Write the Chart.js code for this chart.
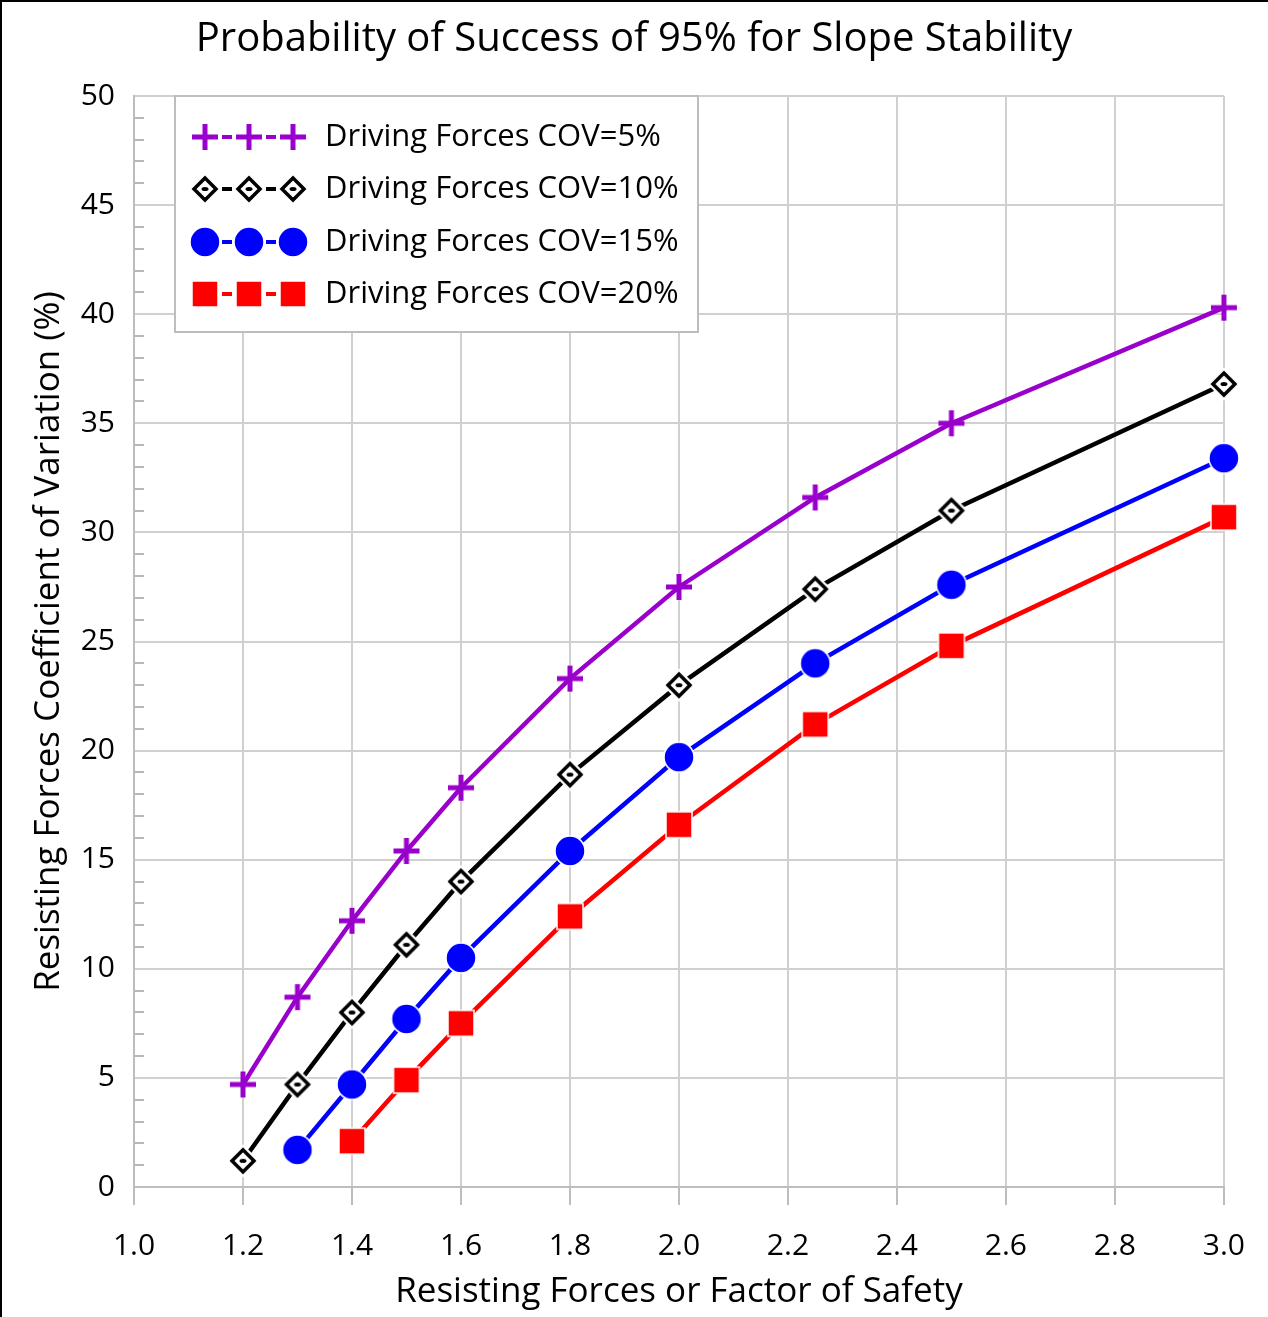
<!DOCTYPE html>
<html>
<head>
<meta charset="utf-8">
<script src="https://cdn.jsdelivr.net/npm/chart.js@4.4.1/dist/chart.umd.min.js"></script>
<style>
  html, body { margin: 0; padding: 0; background: #fff; }
  canvas { display: block; }
</style>
</head>
<body>
<canvas id="slopeChart" width="1268" height="1317"></canvas>
<script>
// factor of safety values per curve
const fsAll = [1.2, 1.3, 1.4, 1.5, 1.6, 1.8, 2.0, 2.25, 2.5, 3.0];
const fs15 = [1.3, 1.4, 1.5, 1.6, 1.8, 2.0, 2.25, 2.5, 3.0];
const fs20 = [1.4, 1.5, 1.6, 1.8, 2.0, 2.25, 2.5, 3.0];

// resisting forces COV (%)
const cov5 = [4.7, 8.7, 12.2, 15.4, 18.3, 23.3, 27.5, 31.6, 35.0, 40.3];
const cov10 = [1.2, 4.7, 8.0, 11.1, 14.0, 18.9, 23.0, 27.4, 31.0, 36.8];
const cov15 = [1.7, 4.7, 7.7, 10.5, 15.4, 19.7, 24.0, 27.6, 33.4];
const cov20 = [2.1, 4.9, 7.5, 12.4, 16.6, 21.2, 24.8, 30.7];

const seriesLabels = ['Driving Forces COV=5%', 'Driving Forces COV=10%', 'Driving Forces COV=15%', 'Driving Forces COV=20%'];
const xTicks = [1.0, 1.2, 1.4, 1.6, 1.8, 2.0, 2.2, 2.4, 2.6, 2.8, 3.0];

const FONT = '"Open Sans", Lato, sans-serif';
const PURPLE = '#9900cc';

function makeMarker(kind) {
    const c = document.createElement('canvas');
    const s = 34;
    c.width = s; c.height = s;
    const g = c.getContext('2d');
    const m = s / 2;
    if (kind === 'cross') {
        g.fillStyle = PURPLE;
        g.fillRect(m - 13, m - 2.5, 26, 5);
        g.fillRect(m - 2.5, m - 13, 5, 26);
    } else if (kind === 'diamond') {
        const r = 11;
        g.beginPath();
        g.moveTo(m, m - r); g.lineTo(m + r, m); g.lineTo(m, m + r); g.lineTo(m - r, m); g.closePath();
        g.lineWidth = 8; g.strokeStyle = '#fff'; g.stroke();
        g.fillStyle = '#fff'; g.fill();
        g.lineWidth = 3.5; g.strokeStyle = '#000'; g.stroke();
        g.beginPath();
        g.ellipse(m, m, 3.5, 2, 0, 0, Math.PI * 2);
        g.fillStyle = '#000'; g.fill();
    } else if (kind === 'circle') {
        g.beginPath();
        g.arc(m, m, 15, 0, Math.PI * 2);
        g.fillStyle = '#0000ff'; g.fill();
        g.lineWidth = 1.5; g.strokeStyle = '#fff'; g.stroke();
    } else {
        g.fillStyle = '#ff0000';
        g.fillRect(m - 13, m - 13, 26, 26);
        g.lineWidth = 1.5; g.strokeStyle = '#fff';
        g.strokeRect(m - 13, m - 13, 26, 26);
    }
    return c;
}

const markers = [makeMarker('cross'), makeMarker('diamond'), makeMarker('circle'), makeMarker('square')];
const colors = [PURPLE, '#000000', '#0000ff', '#ff0000'];

function pts(xs, ys) {
    return xs.map((x, i) => ({ x: x, y: ys[i] }));
}

const pageDeco = {
    id: 'pageDeco',
    beforeDraw(chart) {
        const ctx = chart.ctx;
        ctx.save();
        ctx.fillStyle = '#fff';
        ctx.fillRect(0, 0, chart.width, chart.height);
        ctx.fillStyle = '#000';
        ctx.fillRect(0, 0, chart.width, 2);
        ctx.fillRect(0, 0, 2, chart.height);
        ctx.restore();
    },
    afterDraw(chart) {
        const ctx = chart.ctx;
        const y = chart.scales.y;
        const area = chart.chartArea;
        ctx.save();
        // minor ticks on the y axis, pointing inwards
        ctx.strokeStyle = '#b8b8b8';
        ctx.lineWidth = 2;
        for (let v = 0; v <= 50; v++) {
            if (v % 5 === 0) continue;
            const py = Math.round(y.getPixelForValue(v));
            ctx.beginPath();
            ctx.moveTo(area.left, py);
            ctx.lineTo(area.left + 10, py);
            ctx.stroke();
        }
        // title
        ctx.fillStyle = '#000';
        ctx.font = '40px ' + FONT;
        ctx.textAlign = 'center';
        ctx.textBaseline = 'middle';
        ctx.fillText('Probability of Success of 95% for Slope Stability', 634, 40);

        // legend
        const bx = 175, by = 96, bw = 523, bh = 236;
        ctx.fillStyle = '#fff';
        ctx.fillRect(bx, by, bw, bh);
        ctx.strokeStyle = '#bdbdbd';
        ctx.lineWidth = 2;
        ctx.strokeRect(bx, by, bw, bh);
        const rows = [137, 189, 242, 294];
        const mx = [205, 249, 293];
        ctx.font = '31px ' + FONT;
        ctx.textAlign = 'left';
        for (let i = 0; i < 4; i++) {
            const ry = rows[i];
            ctx.strokeStyle = colors[i];
            ctx.lineWidth = 4;
            for (let k = 0; k < 2; k++) {
                const cx = (mx[k] + mx[k + 1]) / 2;
                ctx.beginPath();
                ctx.moveTo(cx - 5, ry);
                ctx.lineTo(cx + 5, ry);
                ctx.stroke();
            }
            const img = markers[i];
            mx.forEach(px => ctx.drawImage(img, px - img.width / 2, ry - img.height / 2));
            ctx.fillStyle = '#000';
            ctx.fillText(seriesLabels[i], 325, ry);
        }
        ctx.restore();
    }
};

const datasets = [
    [fsAll, cov5], [fsAll, cov10], [fs15, cov15], [fs20, cov20]
].map(([xs, ys], i) => ({
    label: seriesLabels[i],
    data: pts(xs, ys),
    borderColor: colors[i],
    backgroundColor: colors[i],
    borderWidth: 4.5,
    pointStyle: markers[i],
    pointRadius: 14,
    clip: false,
    tension: 0
}));

new Chart(document.getElementById('slopeChart'), {
    type: 'line',
    data: { datasets: datasets },
    plugins: [pageDeco],
    options: {
        responsive: false,
        animation: false,
        layout: { padding: { left: 28, right: 39, top: 96, bottom: 4 } },
        plugins: {
            legend: { display: false },
            title: { display: false },
            tooltip: { enabled: false }
        },
        scales: {
            x: {
                type: 'linear',
                min: 1.0,
                max: 3.0,
                afterFit(scale) { scale.height = 126; },
                afterBuildTicks(scale) { scale.ticks = xTicks.map(v => ({ value: v })); },
                ticks: {
                    font: { family: FONT, size: 30 },
                    color: '#000',
                    padding: 23,
                    maxRotation: 0,
                    callback: v => v.toFixed(1)
                },
                grid: { color: '#d0d0d0', lineWidth: 2, tickLength: 18, tickColor: '#bdbdbd' },
                border: { color: '#bdbdbd', width: 2 },
                title: {
                    display: true,
                    text: 'Resisting Forces or Factor of Safety',
                    font: { family: FONT, size: 35 },
                    color: '#000',
                    padding: 0
                }
            },
            y: {
                min: 0,
                max: 50,
                afterFit(scale) { scale.width = 106; },
                ticks: {
                    stepSize: 5,
                    font: { family: FONT, size: 30 },
                    color: '#000',
                    padding: 19
                },
                grid: { color: '#d0d0d0', lineWidth: 2, drawTicks: false },
                border: { color: '#bdbdbd', width: 2 },
                title: {
                    display: true,
                    text: 'Resisting Forces Coefficient of Variation (%)',
                    font: { family: FONT, size: 35 },
                    color: '#000',
                    padding: 0
                }
            }
        }
    }
});
</script>
</body>
</html>
